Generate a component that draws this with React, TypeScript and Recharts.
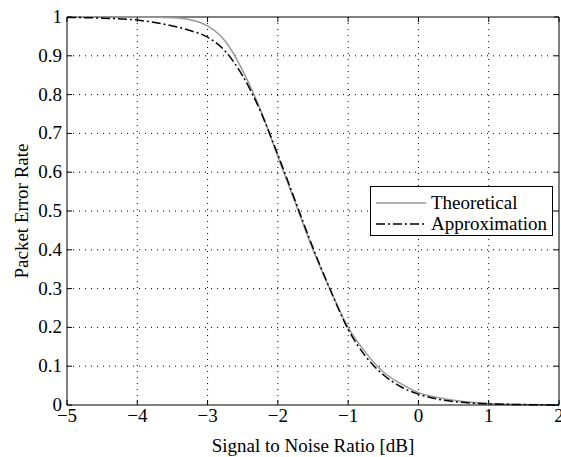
import React from 'react';
import { LineChart, Line, XAxis, YAxis, CartesianGrid, ReferenceLine, Legend } from 'recharts';

// SNR points (dB) and the two packet error rate curves
const snr = [-5, -4.5, -4, -3.5, -3.25, -3, -2.75, -2.5, -2.25, -2, -1.75, -1.5, -1.25, -1, -0.75, -0.5, -0.25, 0, 0.25, 0.5, 0.75, 1, 1.5, 2];
const theoretical = [1, 1, 1, 0.998, 0.993, 0.977, 0.938, 0.862, 0.762, 0.64, 0.52, 0.4, 0.295, 0.2, 0.135, 0.085, 0.055, 0.032, 0.02, 0.012, 0.007, 0.004, 0.001, 0];
const approximation = [0.999, 0.997, 0.992, 0.977, 0.965, 0.948, 0.912, 0.848, 0.758, 0.645, 0.525, 0.405, 0.295, 0.195, 0.125, 0.078, 0.047, 0.028, 0.016, 0.009, 0.005, 0.003, 0.001, 0];

const xTicks = [-5, -4, -3, -2, -1, 0, 1, 2];
const yTicks = [0, 0.1, 0.2, 0.3, 0.4, 0.5, 0.6, 0.7, 0.8, 0.9, 1];

const data = snr.map((s, i) => ({ snr: s, theoretical: theoretical[i], approximation: approximation[i] }));

const FONT = '"Liberation Serif", "Times New Roman", serif';
const W = 561;
const H = 457;
const M = { top: 17, right: 2, left: 0, bottom: 0 };
const Y_W = 67;
const X_H = 52;
const PLOT_W = W - M.left - M.right - Y_W;
const PLOT_H = H - M.top - M.bottom - X_H;
const TICK = 5;

const fmtX = (v: number) => (v < 0 ? '\u2212' + Math.abs(v) : String(v));
const fmtY = (v: number) => (v === 0 || v === 1 ? String(v) : v.toFixed(1));

const XTick = (props: any) => {
    const { x, y, payload } = props;
    return (
        <g>
            <line x1={x} y1={y} x2={x} y2={y - TICK} stroke="#000" />
            <line x1={x} y1={y - PLOT_H} x2={x} y2={y - PLOT_H + TICK} stroke="#000" />
            <text x={x} y={y + 17} textAnchor="middle" fontFamily={FONT} fontSize={19} fill="#000">
                {fmtX(payload.value)}
            </text>
        </g>
    );
};

const YTick = (props: any) => {
    const { x, y, payload } = props;
    return (
        <g>
            <line x1={x} y1={y} x2={x + TICK} y2={y} stroke="#000" />
            <line x1={x + PLOT_W} y1={y} x2={x + PLOT_W - TICK} y2={y} stroke="#000" />
            <text x={x - 5} y={y + 6} textAnchor="end" fontFamily={FONT} fontSize={19} fill="#000">
                {fmtY(payload.value)}
            </text>
        </g>
    );
};

const LegendBox = () => (
    <div style={{ width: 181, height: 48, border: '1px solid #000', background: '#fff', fontFamily: FONT, fontSize: 19 }}>
        <svg width={181} height={48}>
            <line x1={5} y1={16} x2={55} y2={16} stroke="#999" strokeWidth={1.5} />
            <text x={60} y={22} fontFamily={FONT} fontSize={19} fill="#000">Theoretical</text>
            <line x1={5} y1={37} x2={55} y2={37} stroke="#000" strokeWidth={1.5} strokeDasharray="9 3 2 3" />
            <text x={60} y={43} fontFamily={FONT} fontSize={19} fill="#000">Approximation</text>
        </svg>
    </div>
);

export default function App() {
    return (
        <div style={{ position: 'absolute', left: 0, top: 0, width: W, height: H, background: '#fff' }}>
            <LineChart width={W} height={H} data={data} margin={M}>
                <CartesianGrid stroke="#000" strokeWidth={1} strokeDasharray="1 5" horizontalValues={[0.1, 0.2, 0.3, 0.4, 0.5, 0.6, 0.7, 0.8, 0.9]} verticalValues={[-4, -3, -2, -1, 0, 1]} />
                <XAxis
                    dataKey="snr"
                    type="number"
                    domain={[-5, 2]}
                    ticks={xTicks}
                    height={X_H}
                    tickSize={0}
                    tickMargin={0}
                    tickLine={false}
                    tick={<XTick />}
                    stroke="#000"
                    interval={0}
                    label={{ value: 'Signal to Noise Ratio [dB]', position: 'center', dy: 14, fontFamily: FONT, fontSize: 19, fill: '#000' }}
                />
                <YAxis
                    type="number"
                    domain={[0, 1]}
                    ticks={yTicks}
                    width={Y_W}
                    tickSize={0}
                    tickMargin={0}
                    tickLine={false}
                    tick={<YTick />}
                    stroke="#000"
                    interval={0}
                    label={{ value: 'Packet Error Rate', angle: -90, position: 'center', dx: -12, fontFamily: FONT, fontSize: 19, fill: '#000' }}
                />
                <ReferenceLine y={1} stroke="#000" />
                <ReferenceLine x={2} stroke="#000" />
                <Line type="monotone" dataKey="theoretical" stroke="#999" strokeWidth={1.5} dot={false} isAnimationActive={false} name="Theoretical" />
                <Line type="monotone" dataKey="approximation" stroke="#000" strokeWidth={1.5} strokeDasharray="9 3 2 3" dot={false} isAnimationActive={false} name="Approximation" />
                <Legend
                    layout="vertical"
                    align="center"
                    verticalAlign="middle"
                    content={<LegendBox />}
                    wrapperStyle={{ position: 'absolute', left: 370, top: 186, width: 183, height: 50 }}
                />
            </LineChart>
        </div>
    );
}
